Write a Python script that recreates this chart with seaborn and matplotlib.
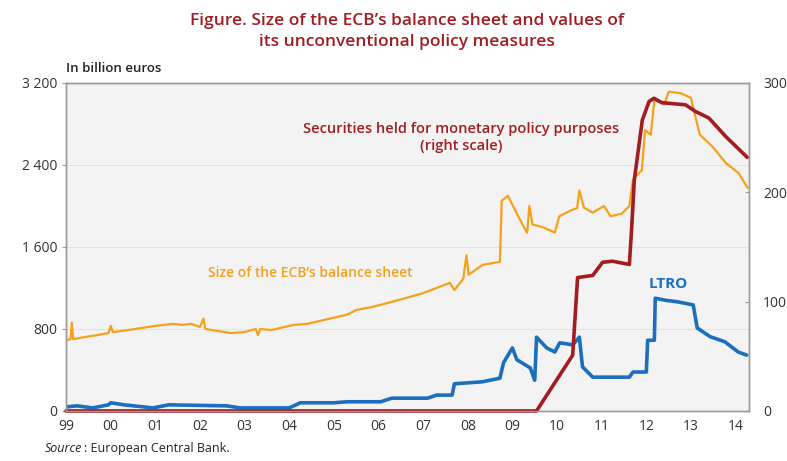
import pandas as pd
import matplotlib
matplotlib.use('Agg')
import matplotlib.pyplot as plt
import seaborn as sns

# size of the ECB balance sheet (left scale, billion euros)
bs_year = [1999.00, 1999.10, 1999.13, 1999.16, 1999.40, 1999.70, 1999.95, 2000.00, 2000.05,
           2000.40, 2000.70, 2001.00, 2001.20, 2001.40, 2001.60, 2001.80, 2002.00, 2002.08,
           2002.12, 2002.40, 2002.70, 2003.00, 2003.25, 2003.30, 2003.35, 2003.60, 2003.90,
           2004.10, 2004.40, 2004.70, 2005.00, 2005.30, 2005.50, 2005.80, 2006.00, 2006.30,
           2006.60, 2007.00, 2007.30, 2007.60, 2007.70, 2007.90, 2007.97, 2008.02, 2008.33,
           2008.72, 2008.76, 2008.90, 2009.10, 2009.30, 2009.33, 2009.38, 2009.45, 2009.70,
           2009.95, 2010.05, 2010.30, 2010.45, 2010.50, 2010.60, 2010.80, 2011.05, 2011.20,
           2011.45, 2011.62, 2011.70, 2011.90, 2011.97, 2012.10, 2012.18, 2012.40, 2012.50,
           2012.77, 2013.00, 2013.10, 2013.20, 2013.48, 2013.78, 2014.07, 2014.27]
bs_value = [690, 700, 860, 700, 720, 740, 760, 830, 770,
            790, 810, 830, 840, 850, 840, 850, 820, 900,
            800, 780, 760, 770, 800, 740, 800, 790, 820,
            840, 850, 880, 910, 940, 985, 1010, 1030, 1065,
            1100, 1150, 1200, 1250, 1180, 1290, 1520, 1330, 1425,
            1455, 2050, 2100, 1925, 1760, 1740, 2000, 1820, 1790,
            1740, 1900, 1955, 1980, 2150, 1985, 1935, 2000, 1900,
            1925, 2000, 2255, 2350, 2740, 2695, 3035, 2990, 3115,
            3100, 3055, 2870, 2695, 2580, 2420, 2320, 2175]

# LTRO (left scale, billion euros)
ltro_year = [1999.00, 1999.25, 1999.60, 1999.95, 2000.00, 2000.30, 2000.95, 2001.30, 2002.60,
             2002.90, 2004.00, 2004.25, 2005.00, 2005.30, 2006.05, 2006.30, 2007.10, 2007.30,
             2007.65, 2007.70, 2008.33, 2008.72, 2008.80, 2008.95, 2009.00, 2009.10, 2009.40,
             2009.50, 2009.54, 2009.77, 2009.95, 2010.06, 2010.35, 2010.50, 2010.57, 2010.80,
             2011.24, 2011.62, 2011.70, 2012.00, 2012.03, 2012.18, 2012.20, 2012.43, 2012.70,
             2013.05, 2013.14, 2013.43, 2013.76, 2014.06, 2014.25]
ltro_value = [40, 50, 30, 60, 80, 60, 30, 60, 50,
              30, 30, 80, 80, 90, 90, 125, 125, 155,
              155, 265, 285, 320, 470, 580, 615, 500, 420,
              300, 720, 615, 575, 665, 645, 720, 430, 330,
              330, 330, 380, 380, 690, 690, 1100, 1080, 1065,
              1035, 810, 725, 675, 575, 545]

# securities held for monetary policy purposes (right scale)
smp_year = [1999.00, 2009.54, 2010.35, 2010.46, 2010.80, 2011.02, 2011.24, 2011.62, 2011.67,
            2011.73, 2011.91, 2012.06, 2012.17, 2012.35, 2012.88, 2013.10, 2013.40, 2013.78,
            2014.26]
smp_value = [0, 0, 51, 122, 124, 136, 137, 134, 166,
             211, 266, 283, 286, 282, 280, 274, 268, 251,
             232]

year_ticks = list(range(1999, 2015))
year_labels = [str(y)[2:] for y in year_ticks]

ORANGE = '#f5a11c'
BLUE = '#1b6fbd'
RED = '#a11d21'

sns.set_style('white')
plt.rcParams['font.family'] = ['Open Sans', 'DejaVu Sans']

fig = plt.figure(figsize=(7.87, 4.61), dpi=100)
ax = fig.add_axes([0.0839, 0.1085, 0.8678, 0.7115])
ax.set_facecolor('#f3f3f3')
ax2 = ax.twinx()

df_bs = pd.DataFrame({'year': bs_year, 'value': bs_value})
df_ltro = pd.DataFrame({'year': ltro_year, 'value': ltro_value})
df_smp = pd.DataFrame({'year': smp_year, 'value': smp_value})

sns.lineplot(data=df_bs, x='year', y='value', ax=ax, color=ORANGE, lw=1.6, estimator=None, sort=False)
sns.lineplot(data=df_ltro, x='year', y='value', ax=ax, color=BLUE, lw=2.6, estimator=None, sort=False)
sns.lineplot(data=df_smp, x='year', y='value', ax=ax2, color=RED, lw=2.6, estimator=None, sort=False,
             clip_on=False)

ax.set_xlim(1999, 2014.3)
ax.set_ylim(0, 3200)
ax2.set_ylim(0, 300)

ax.set_yticks([0, 800, 1600, 2400, 3200])
ax.set_yticklabels(['0', '800', '1 600', '2 400', '3 200'])
ax2.set_yticks([0, 100, 200, 300])
ax.set_xticks(year_ticks)
ax.set_xticklabels(year_labels)
ax.set_xlabel('')
ax.set_ylabel('')
ax2.set_ylabel('')

for y in [800, 1600, 2400]:
    ax.axhline(y, color='#e2e2e2', lw=0.8, zorder=0)

for a in (ax, ax2):
    for s in a.spines.values():
        s.set_color('#9a9a9a')
        s.set_linewidth(1.0)
ax.tick_params(axis='x', direction='in', length=3, color='#9a9a9a', labelsize=10, labelcolor='#333333', pad=6)
ax.tick_params(axis='y', direction='out', length=3, color='#9a9a9a', labelsize=10, labelcolor='#333333', pad=3)
ax2.tick_params(axis='y', direction='in', length=3, color='#9a9a9a', labelsize=10, labelcolor='#333333', pad=10)

ax.text(0, 1.025, 'In billion euros', transform=ax.transAxes, fontsize=9.5, fontweight='semibold',
        color='#222222', ha='left', va='bottom')

fig.text(0.517, 0.972, "Figure. Size of the ECB\u2019s balance sheet and values of\nits unconventional policy measures",
         ha='center', va='top', fontsize=12.5, fontweight='semibold', color=RED, linespacing=1.45)

ax.text(2004.46, 1347, "Size of the ECB\u2019s balance sheet", color=ORANGE, fontsize=10,
        fontweight='semibold', ha='center', va='center')
ax.text(2007.86, 2665, "Securities held for monetary policy purposes\n(right scale)", color=RED,
        fontsize=10.5, fontweight='semibold', ha='center', va='center', linespacing=1.25)
ax.text(2012.49, 1240, 'LTRO', color=BLUE, fontsize=11, fontweight='bold', ha='center', va='center')

fig.text(0.057, 0.012, 'Source', fontsize=9, style='italic', color='#222222', ha='left', va='bottom')
fig.text(0.107, 0.012, ': European Central Bank.', fontsize=9, color='#222222', ha='left', va='bottom')

plt.savefig('out.png', dpi=100)
